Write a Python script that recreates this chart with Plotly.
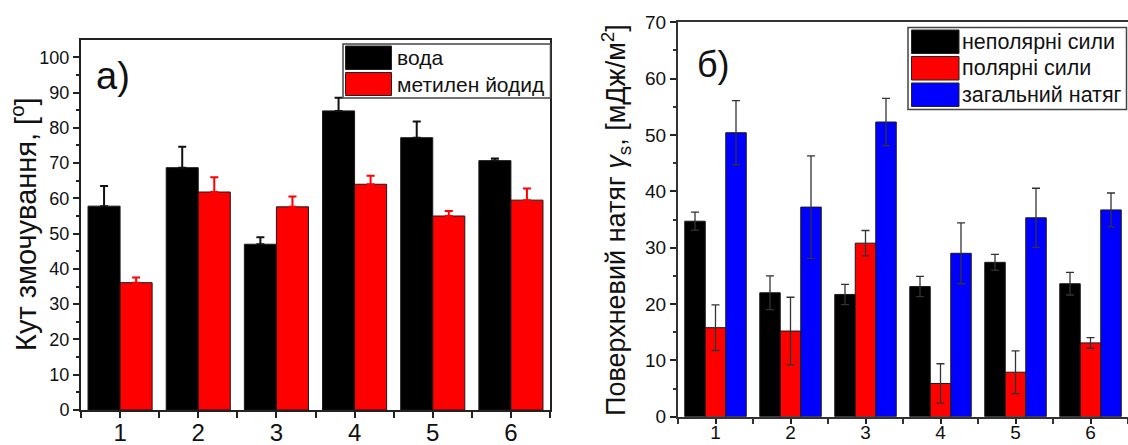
import plotly.graph_objects as go

# ---------------- data ----------------
samples = ["1", "2", "3", "4", "5", "6"]
xpos = [1, 2, 3, 4, 5, 6]

# panel a) contact angle, degrees
water = [57.8, 68.7, 47.0, 84.8, 77.2, 70.7]
water_err = [5.7, 5.9, 2.0, 3.7, 4.6, 0.6]
diiodo = [36.1, 61.8, 57.6, 64.0, 55.0, 59.5]
diiodo_err = [1.5, 4.2, 2.9, 2.4, 1.4, 3.3]

# panel б) surface energy, mJ/m2
dispersive = [34.7, 22.0, 21.7, 23.1, 27.4, 23.6]
dispersive_err = [1.6, 3.0, 1.8, 1.8, 1.4, 2.0]
polar = [15.8, 15.2, 30.8, 5.9, 7.9, 13.1]
polar_err = [4.05, 6.0, 2.25, 3.5, 3.8, 0.95]
total = [50.4, 37.2, 52.3, 29.0, 35.3, 36.7]
total_err = [5.7, 9.1, 4.2, 5.4, 5.25, 3.0]

left_yticks = list(range(0, 101, 10))
right_yticks = list(range(0, 71, 10))

names_a = ["вода", "метилен йодид"]
names_b = ["неполярні сили", "полярні сили", "загальний натяг"]
colors_a = ["#000000", "#FF0000"]
colors_b = ["#000000", "#FF0000", "#0000FF"]

# ---------------- layout helpers ----------------
W, H = 1128, 445
FONT = "Liberation Sans, Arial, sans-serif"


def px(x):
    return x / W


def py(y):
    return 1 - y / H


fig = go.Figure()

outline = dict(color="#1a1a1a", width=1)

for vals, errs, col, nm in zip([water, diiodo], [water_err, diiodo_err], colors_a, names_a):
    fig.add_trace(go.Bar(
        x=xpos, y=vals, name=nm, marker=dict(color=col, line=outline),
        error_y=dict(type="data", array=errs, arrayminus=[0] * len(errs), symmetric=False,
                     color=col if col != "#000000" else "#111111", thickness=2, width=4),
        xaxis="x", yaxis="y", showlegend=False,
    ))

for vals, errs, col, nm in zip([dispersive, polar, total],
                               [dispersive_err, polar_err, total_err], colors_b, names_b):
    fig.add_trace(go.Bar(
        x=xpos, y=vals, name=nm, marker=dict(color=col, line=outline),
        error_y=dict(type="data", array=errs, symmetric=True,
                     color="#333333", thickness=1.3, width=4),
        xaxis="x2", yaxis="y2", showlegend=False,
    ))

axis_common = dict(showline=True, linecolor="#222222", linewidth=2, mirror=True,
                   showgrid=False, zeroline=False, ticks="outside", tickcolor="#222222",
                   tickwidth=1.5, automargin=False)

fig.update_layout(
    width=W, height=H, margin=dict(l=0, r=0, t=0, b=0),
    paper_bgcolor="white", plot_bgcolor="white", template="none",
    barmode="group", bargap=0.18, bargroupgap=0,
    font=dict(family=FONT, color="#111111"),
    showlegend=False,
    xaxis=dict(domain=[px(81), px(550)], range=[0.5, 6.5], tickmode="array",
               tickvals=xpos, ticktext=samples, ticklen=6, ticklabelstandoff=-6,
               tickfont=dict(size=24, family=FONT, color="#111111"),
               minor=dict(tickmode="linear", tick0=0.5, dtick=1, ticks="outside",
                          ticklen=6, tickcolor="#222222", tickwidth=1.5),
               anchor="y", **axis_common),
    yaxis=dict(domain=[py(410), py(40)], range=[0, 104.9], tickmode="array",
               tickvals=left_yticks, ticklen=6,
               tickfont=dict(size=18, family=FONT, color="#111111"),
               minor=dict(tickmode="linear", tick0=0, dtick=5, ticks="outside",
                          ticklen=3, tickcolor="#222222", tickwidth=1.5),
               anchor="x", **axis_common),
    xaxis2=dict(domain=[px(678), 1.0], range=[0.5, 6.5], tickmode="array",
                tickvals=xpos, ticktext=samples, ticklen=5, ticklabelstandoff=-8,
                tickfont=dict(size=19, family=FONT, color="#111111"),
                minor=dict(tickmode="linear", tick0=0.5, dtick=1, ticks="outside",
                           ticklen=5, tickcolor="#333333", tickwidth=1.5),
                anchor="y2", **{**axis_common, "linecolor": "#333333"}),
    yaxis2=dict(domain=[py(416.7), py(22.3)], range=[0, 70], tickmode="array",
                tickvals=right_yticks, ticklen=6,
                tickfont=dict(size=19, family=FONT, color="#111111"),
                minor=dict(tickmode="linear", tick0=0, dtick=5, ticks="outside",
                           ticklen=3, tickcolor="#333333", tickwidth=1.5),
                anchor="x2", **{**axis_common, "linecolor": "#333333"}),
)

annotations = []
shapes = []

# axis titles
annotations.append(dict(x=px(24), y=py(224), xref="paper", yref="paper",
                        text="Кут змочування, [<sup>o</sup>]", textangle=-90,
                        showarrow=False, font=dict(size=29, family=FONT, color="#111111"),
                        xanchor="center", yanchor="middle"))
annotations.append(dict(x=px(616), y=py(220), xref="paper", yref="paper",
                        text="Поверхневий натяг <i>γ</i><sub>s</sub>, [мДж/м<sup>2</sup>]",
                        textangle=-90, showarrow=False,
                        font=dict(size=27, family=FONT, color="#111111"),
                        xanchor="center", yanchor="middle"))

# panel labels
annotations.append(dict(x=px(113), y=py(76), xref="paper", yref="paper", text="а)",
                        showarrow=False, font=dict(size=38, family=FONT, color="#111111"),
                        xanchor="center", yanchor="middle"))
annotations.append(dict(x=px(713), y=py(64), xref="paper", yref="paper", text="б)",
                        showarrow=False, font=dict(size=36, family=FONT, color="#111111"),
                        xanchor="center", yanchor="middle"))


def draw_legend(box, sw_x, rows, colors, labels, text_x, size):
    x0, y0, x1, y1 = box
    shapes.append(dict(type="rect", xref="paper", yref="paper",
                       x0=px(x0), x1=px(x1), y0=py(y1), y1=py(y0),
                       line=dict(color="#444444", width=1.5), fillcolor="white", layer="above"))
    for (r0, r1), col, lab in zip(rows, colors, labels):
        shapes.append(dict(type="rect", xref="paper", yref="paper",
                           x0=px(sw_x[0]), x1=px(sw_x[1]), y0=py(r1), y1=py(r0),
                           line=dict(color="#222222", width=1), fillcolor=col, layer="above"))
        annotations.append(dict(x=px(text_x), y=py((r0 + r1) / 2), xref="paper", yref="paper",
                                text=lab, showarrow=False, xanchor="left", yanchor="middle",
                                font=dict(size=size, family=FONT, color="#111111")))


draw_legend((343, 44, 550.5, 98), (345.5, 391.5), [(46, 69.5), (72.5, 95.5)],
            colors_a, names_a, 395, 21)
draw_legend((908, 27.5, 1126.5, 109.5), (911.5, 959), [(30, 53.5), (56.5, 80), (83, 106.5)],
            colors_b, names_b, 960, 21.5)

fig.update_layout(annotations=annotations, shapes=shapes)

fig.write_html("out.html")
